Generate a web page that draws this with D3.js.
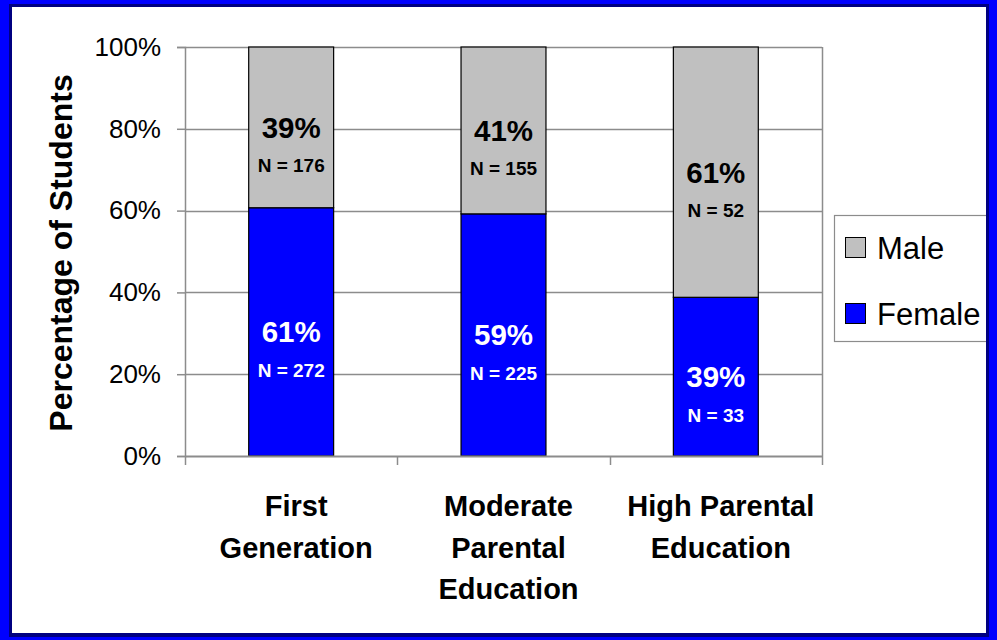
<!DOCTYPE html>
<html>
<head>
<meta charset="utf-8">
<script src="https://cdn.jsdelivr.net/npm/d3@7/dist/d3.min.js"></script>
<style>
  html, body { margin: 0; padding: 0; background: #fff; }
  svg { display: block; font-family: "Liberation Sans", Arial, sans-serif; }
</style>
</head>
<body>
<svg id="chart" width="997" height="640"></svg>
<script>
// ---- data ----
const categories = [["First", "Generation"], ["Moderate", "Parental", "Education"], ["High Parental", "Education"]];
const femalePct = [60.7, 59.2, 38.8];
const malePct = [39.3, 40.8, 61.2];
const femaleLabels = ["61%", "59%", "39%"];
const maleLabels = ["39%", "41%", "61%"];
const femaleN = [272, 225, 33];
const maleN = [176, 155, 52];
const yTicks = [0, 20, 40, 60, 80, 100];
const seriesNames = ["Male", "Female"];

// ---- layout ----
const svg = d3.select("#chart");
const plot = { left: 185, right: 822, top: 47, bottom: 456 };
const colors = { Male: "#c0c0c0", Female: "#0000ff" };
const gridColor = "#8c8c8c";

const x = d3.scaleBand().domain(d3.range(categories.length))
  .range([plot.left, plot.right]).paddingInner(0.6).paddingOuter(0.3);
const y = d3.scaleLinear().domain([0, 100]).range([plot.bottom, plot.top]);

// background
svg.append("rect").attr("width", 997).attr("height", 640).attr("fill", "#fff");

// gridlines
svg.append("g").selectAll("line").data(yTicks.filter(d => d > 0)).join("line")
  .attr("x1", plot.left).attr("x2", plot.right)
  .attr("y1", d => Math.round(y(d)) + 0.5).attr("y2", d => Math.round(y(d)) + 0.5)
  .attr("stroke", gridColor).attr("stroke-width", 1.5);
// right border of plot area
svg.append("line").attr("x1", plot.right + 0.5).attr("x2", plot.right + 0.5)
  .attr("y1", plot.top).attr("y2", plot.bottom)
  .attr("stroke", gridColor).attr("stroke-width", 1.5);

// stacked data
const stacked = categories.map((c, i) => ({
  i,
  female: [0, femalePct[i]],
  male: [femalePct[i], femalePct[i] + malePct[i]]
}));

const bars = svg.append("g");
bars.selectAll("rect.female").data(stacked).join("rect").attr("class", "female")
  .attr("x", d => x(d.i)).attr("width", x.bandwidth())
  .attr("y", d => y(d.female[1])).attr("height", d => y(d.female[0]) - y(d.female[1]))
  .attr("fill", colors.Female).attr("stroke", "#000").attr("stroke-width", 1.2);
bars.selectAll("rect.male").data(stacked).join("rect").attr("class", "male")
  .attr("x", d => x(d.i)).attr("width", x.bandwidth())
  .attr("y", d => y(Math.min(100, d.male[1]))).attr("height", d => y(d.male[0]) - y(Math.min(100, d.male[1])))
  .attr("fill", colors.Male).attr("stroke", "#000").attr("stroke-width", 1.2);

// y axis
const yAxis = d3.axisLeft(y).tickValues(yTicks).tickFormat(d => d + "%").tickSize(8).tickPadding(16);
const gy = svg.append("g").attr("transform", `translate(${plot.left},0)`).call(yAxis);
gy.select(".domain").attr("stroke", gridColor).attr("stroke-width", 1.5);
gy.selectAll(".tick line").attr("stroke", gridColor).attr("stroke-width", 1.5);
gy.selectAll(".tick text").attr("font-size", 26).attr("fill", "#000")
  .attr("font-family", "Liberation Sans, Arial, sans-serif");

// x axis line with boundary ticks
svg.append("line").attr("x1", plot.left).attr("x2", plot.right)
  .attr("y1", plot.bottom + 0.5).attr("y2", plot.bottom + 0.5)
  .attr("stroke", gridColor).attr("stroke-width", 2);
const boundaries = d3.range(categories.length + 1).map(i => plot.left + i * x.step());
svg.append("g").selectAll("line").data(boundaries).join("line")
  .attr("x1", d => Math.round(d) + 0.5).attr("x2", d => Math.round(d) + 0.5)
  .attr("y1", plot.bottom).attr("y2", plot.bottom + 9)
  .attr("stroke", gridColor).attr("stroke-width", 1.5);

// category labels
const catG = svg.append("g");
categories.forEach((lines, i) => {
  const t = catG.append("text").attr("text-anchor", "middle")
    .attr("font-size", 29).attr("font-weight", "bold").attr("fill", "#000");
  lines.forEach((ln, j) => {
    t.append("tspan").attr("x", x(i) + x.bandwidth() / 2 + 5).attr("y", 516 + j * 41.5).text(ln);
  });
});

// y title
svg.append("text")
  .attr("transform", "translate(72,253) rotate(-90)")
  .attr("text-anchor", "middle").attr("font-size", 32).attr("font-weight", "bold")
  .attr("fill", "#000").text("Percentage of Students");

// value labels
const labG = svg.append("g").attr("text-anchor", "middle").attr("font-weight", "bold");
stacked.forEach(d => {
  const cx = x(d.i) + x.bandwidth() / 2;
  const fm = (y(d.female[0]) + y(d.female[1])) / 2;
  const mm = (y(d.male[0]) + y(Math.min(100, d.male[1]))) / 2;
  labG.append("text").attr("x", cx).attr("y", fm + 10.5).attr("font-size", 29.5).attr("fill", "#fff").text(femaleLabels[d.i]);
  labG.append("text").attr("x", cx).attr("y", fm + 45).attr("font-size", 19).attr("fill", "#fff").text("N = " + femaleN[d.i]);
  labG.append("text").attr("x", cx).attr("y", mm + 10.5).attr("font-size", 29.5).attr("fill", "#000").text(maleLabels[d.i]);
  labG.append("text").attr("x", cx).attr("y", mm + 45).attr("font-size", 19).attr("fill", "#000").text("N = " + maleN[d.i]);
});

// legend
const leg = svg.append("g");
leg.append("rect").attr("x", 834.5).attr("y", 215.5).attr("width", 170).attr("height", 126)
  .attr("fill", "#fff").attr("stroke", gridColor).attr("stroke-width", 1.2);
seriesNames.forEach((s, k) => {
  const cy = 248 + k * 66;
  leg.append("rect").attr("x", 845.5).attr("y", cy - 10.5).attr("width", 20).attr("height", 20)
    .attr("fill", colors[s]).attr("stroke", "#000").attr("stroke-width", 1);
  leg.append("text").attr("x", 877).attr("y", cy + 11).attr("font-size", 31).attr("fill", "#000").text(s);
});

// outer frame
const frame = svg.append("g");
frame.append("path").attr("fill-rule", "evenodd").attr("fill", "#0000ff")
  .attr("d", "M0,0H997V640H0Z M9,4H989V637H9Z");
frame.append("path").attr("fill-rule", "evenodd").attr("fill", "#000080")
  .attr("d", "M9,4H989V637H9Z M12,7H986V633H12Z");
</script>
</body>
</html>
